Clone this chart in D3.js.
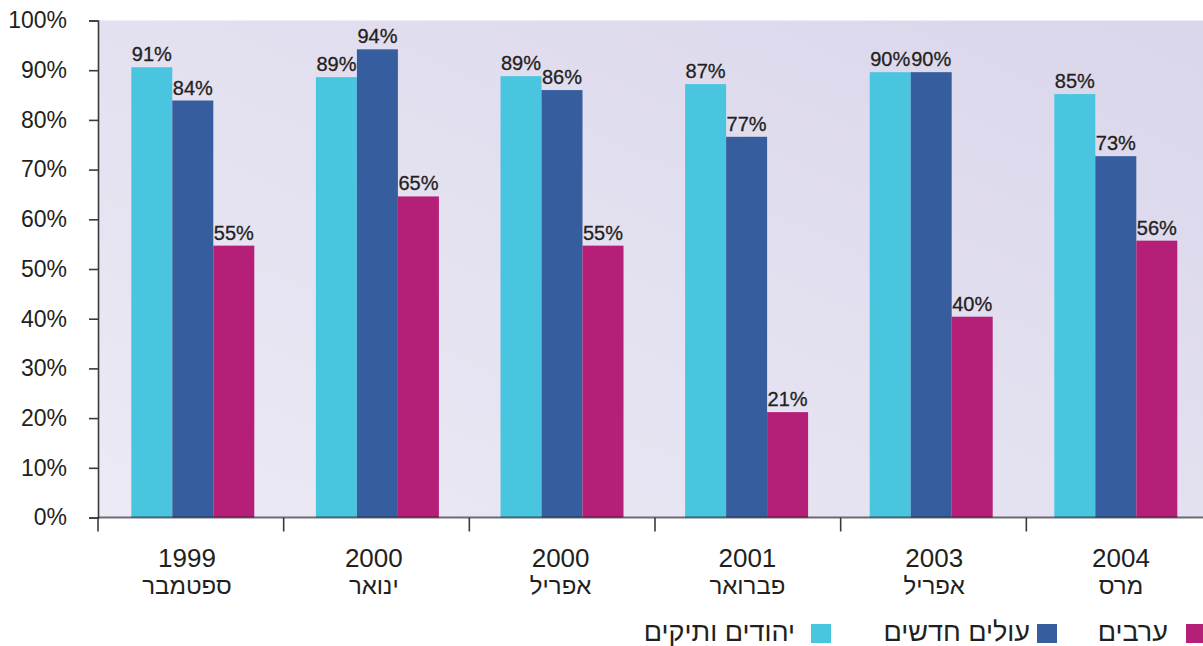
<!DOCTYPE html>
<html>
<head>
<meta charset="utf-8">
<script src="https://cdn.jsdelivr.net/npm/d3@7/dist/d3.min.js"></script>
<style>
  html, body { margin: 0; padding: 0; background: #ffffff; }
  svg { display: block; }
  text { font-family: "Liberation Sans", Arial, "DejaVu Sans", sans-serif; fill: #231f20; }
</style>
</head>
<body>
<svg id="chart" width="1203" height="646"></svg>
<script>
// ---- data ----
const years = ["1999", "2000", "2000", "2001", "2003", "2004"];
const months = ["ספטמבר", "ינואר", "אפריל", "פברואר", "אפריל", "מרס"];
const seriesNames = ["יהודים ותיקים", "עולים חדשים", "ערבים"];
const veteranJews = [90.6, 88.6, 88.8, 87.2, 89.6, 85.2];
const newImmigrants = [83.9, 94.2, 86.0, 76.6, 89.6, 72.7];
const arabs = [54.7, 64.6, 54.7, 21.2, 40.4, 55.7];
const yTicks = [0, 10, 20, 30, 40, 50, 60, 70, 80, 90, 100];
const seriesValues = [veteranJews, newImmigrants, arabs];
const colors = ["#4ac5df", "#365e9e", "#b61f77"];

// ---- layout ----
const svg = d3.select("#chart");
const plotLeft = 98, plotRight = 1212, plotTop = 20.5, plotBottom = 517.5;
const idx = d3.range(years.length);

// category boundaries (tick marks)
const x0 = d3.scaleBand().domain(idx).range([plotLeft, plotRight]).padding(0);
// bar-group placement
const xg = d3.scaleBand().domain(idx).range([100.5, 1208.1]).paddingInner(0.3337).paddingOuter(0.1668);
// category label placement
const xlab = d3.scalePoint().domain(idx).range([187, 1121]);
const x1 = d3.scaleBand().domain(d3.range(seriesValues.length)).range([0, xg.bandwidth()]).padding(0);
const y = d3.scaleLinear().domain([0, 100]).range([plotBottom, plotTop]);

// background gradient
const defs = svg.append("defs");
const grad = defs.append("linearGradient").attr("id", "bg")
  .attr("x1", "0").attr("y1", "1").attr("x2", "1").attr("y2", "0");
grad.append("stop").attr("offset", "0").attr("stop-color", "#eceaf5");
grad.append("stop").attr("offset", "1").attr("stop-color", "#dad6eb");

svg.append("rect")
  .attr("x", plotLeft).attr("y", plotTop)
  .attr("width", 1203 - plotLeft).attr("height", plotBottom - plotTop)
  .attr("fill", "url(#bg)");

// bars
const groups = svg.append("g").selectAll("g")
  .data(idx)
  .join("g")
  .attr("transform", i => `translate(${xg(i)},0)`);

groups.selectAll("rect")
  .data(i => seriesValues.map((s, k) => ({ k, v: s[i] })))
  .join("rect")
  .attr("x", d => x1(d.k))
  .attr("width", x1.bandwidth())
  .attr("y", d => y(d.v))
  .attr("height", d => y(0) - y(d.v))
  .attr("fill", d => colors[d.k]);

groups.selectAll("text")
  .data(i => seriesValues.map((s, k) => ({ k, v: s[i] })))
  .join("text")
  .attr("x", d => x1(d.k) + x1.bandwidth() / 2)
  .attr("y", d => y(d.v) - 6)
  .attr("text-anchor", "middle")
  .style("font-size", "20px")
  .style("stroke", "#231f20").style("stroke-width", "0.3px")
  .text(d => Math.round(d.v) + "%");

// y axis
const yAxis = svg.append("g").attr("transform", `translate(${plotLeft},0)`)
  .call(d3.axisLeft(y).tickValues(yTicks).tickSize(9).tickPadding(22).tickFormat(d => d + "%"));
yAxis.select(".domain").attr("stroke", "#3a3a3a").attr("stroke-width", 1.6);
yAxis.selectAll(".tick line").attr("stroke", "#3a3a3a").attr("stroke-width", 1.6);
yAxis.selectAll(".tick text").style("font-size", "23px").attr("fill", "#231f20")
  .style("font-family", '"Liberation Sans", Arial, sans-serif');

// x axis
const xAxisG = svg.append("g");
xAxisG.append("line")
  .attr("x1", plotLeft).attr("x2", 1203).attr("y1", plotBottom).attr("y2", plotBottom)
  .attr("stroke", "rgba(20,20,30,0.6)").attr("stroke-width", 2);
xAxisG.selectAll("line.tk")
  .data(idx.map(i => x0(i)))
  .join("line").attr("class", "tk")
  .attr("x1", d => d).attr("x2", d => d)
  .attr("y1", plotBottom).attr("y2", plotBottom + 14)
  .attr("stroke", "#3a3a3a").attr("stroke-width", 1.6);

const xl = svg.append("g").selectAll("g")
  .data(idx)
  .join("g")
  .attr("transform", i => `translate(${xlab(i)},0)`);
xl.append("text").attr("y", 567).attr("text-anchor", "middle")
  .style("font-size", "26px").text(i => years[i]);
xl.append("text").attr("y", 594).attr("text-anchor", "middle")
  .style("font-size", "24px").text(i => months[i]);

// legend
const legendSwatchX = [811, 1037, 1186];
const legendTextEnd = [795, 1030, 1168];
const leg = svg.append("g").selectAll("g")
  .data(d3.range(seriesNames.length))
  .join("g");
leg.append("rect")
  .attr("x", k => legendSwatchX[k]).attr("y", 624)
  .attr("width", 20).attr("height", 19)
  .attr("fill", k => colors[k]);
leg.append("text")
  .attr("x", k => legendTextEnd[k]).attr("y", 641)
  .attr("text-anchor", "end")
  .style("font-size", "27px")
  .text(k => seriesNames[k]);
</script>
</body>
</html>
